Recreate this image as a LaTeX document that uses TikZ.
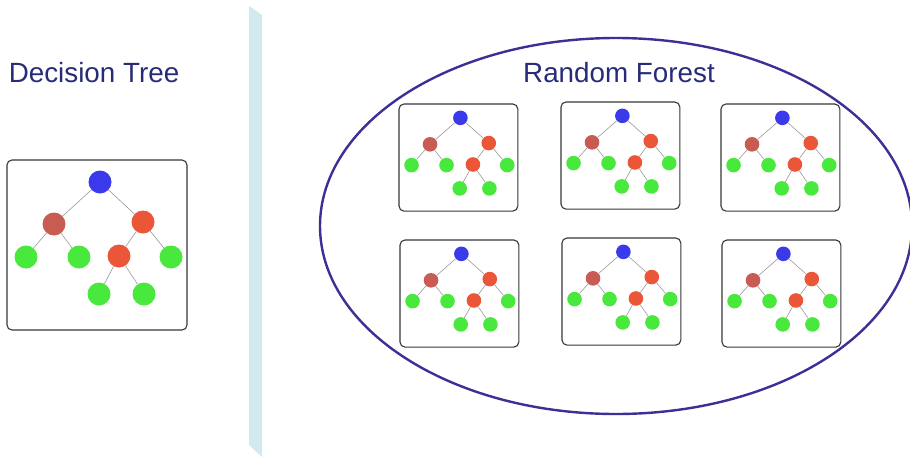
\documentclass[tikz,border=0pt]{standalone}
\usepackage{fontspec}
\setsansfont{Liberation Sans}
\usetikzlibrary{arrows.meta}

\definecolor{rootblue}{RGB}{58,58,235}
\definecolor{splitbrown}{RGB}{200,92,82}
\definecolor{splitred}{RGB}{236,86,56}
\definecolor{leafgreen}{RGB}{72,232,60}
\definecolor{titlenavy}{RGB}{40,44,120}
\definecolor{ringblue}{RGB}{58,48,150}
\definecolor{dividerblue}{RGB}{210,233,237}
\definecolor{boxgray}{RGB}{52,56,56}

% one decision tree in its box, drawn in box units (180 x 170)
% #1 = prefix for the node names, #2 = node diameter
\newcommand{\decisiontree}[2]{%
    \draw[treebox] (0,0) rectangle (180,170);
    \node[treenode, fill=rootblue,   minimum size=#2] (#1-root) at (93,22)  {};
    \node[treenode, fill=splitbrown, minimum size=#2] (#1-l)    at (47,64)  {};
    \node[treenode, fill=splitred,   minimum size=#2] (#1-r)    at (136,62) {};
    \node[treenode, fill=leafgreen,  minimum size=#2] (#1-ll)   at (19,97)  {};
    \node[treenode, fill=leafgreen,  minimum size=#2] (#1-lr)   at (72,97)  {};
    \node[treenode, fill=splitred,   minimum size=#2] (#1-rl)   at (112,96) {};
    \node[treenode, fill=leafgreen,  minimum size=#2] (#1-rr)   at (164,97) {};
    \node[treenode, fill=leafgreen,  minimum size=#2] (#1-rll)  at (92,134) {};
    \node[treenode, fill=leafgreen,  minimum size=#2] (#1-rlr)  at (137,134) {};
    \foreach \p/\q in {root/l, root/r, l/ll, l/lr, r/rl, r/rr, rl/rll, rl/rlr}
        \draw[branch] (#1-\p) -- (#1-\q);
}

\begin{document}
\begin{tikzpicture}[
    x=1pt, y=-1pt,
    every node/.style={font=\sffamily},
    title/.style={font=\sffamily\fontsize{27.8}{33}\selectfont, text=titlenavy},
    treebox/.style={draw=boxgray, line width=1.1pt, rounded corners=5pt},
    treenode/.style={circle, inner sep=0pt},
    branch/.style={draw=gray!80, line width=0.6pt},
    >=Stealth
]
\useasboundingbox (0,0) rectangle (910,458);

% ===== LEFT PANEL: single tree =====
\node[title] (dtitle) at (94,73) {Decision Tree};

\begin{scope}[shift={(7,160)}]
    \decisiontree{big}{23pt}
\end{scope}

% --- Divider ---
\fill[dividerblue] (249,6) -- (262,15) -- (262,457) -- (249,445) -- cycle;

% ===== RIGHT PANEL: forest of trees =====
\node[title] (ftitle) at (619,73) {Random Forest};

\draw[ringblue, line width=2.4pt] (616,226) ellipse [x radius=296, y radius=188];

% --- six small trees ---
\foreach \tx/\ty/\tn in {399/104/a, 561/102/b, 721/104/c,
                         400/240/d, 562/238/e, 722/240/f} {
    \begin{scope}[shift={(\tx,\ty)}, xscale=0.66, yscale=0.63]
        \decisiontree{\tn}{14.6pt}
    \end{scope}
}

\end{tikzpicture}
\end{document}
